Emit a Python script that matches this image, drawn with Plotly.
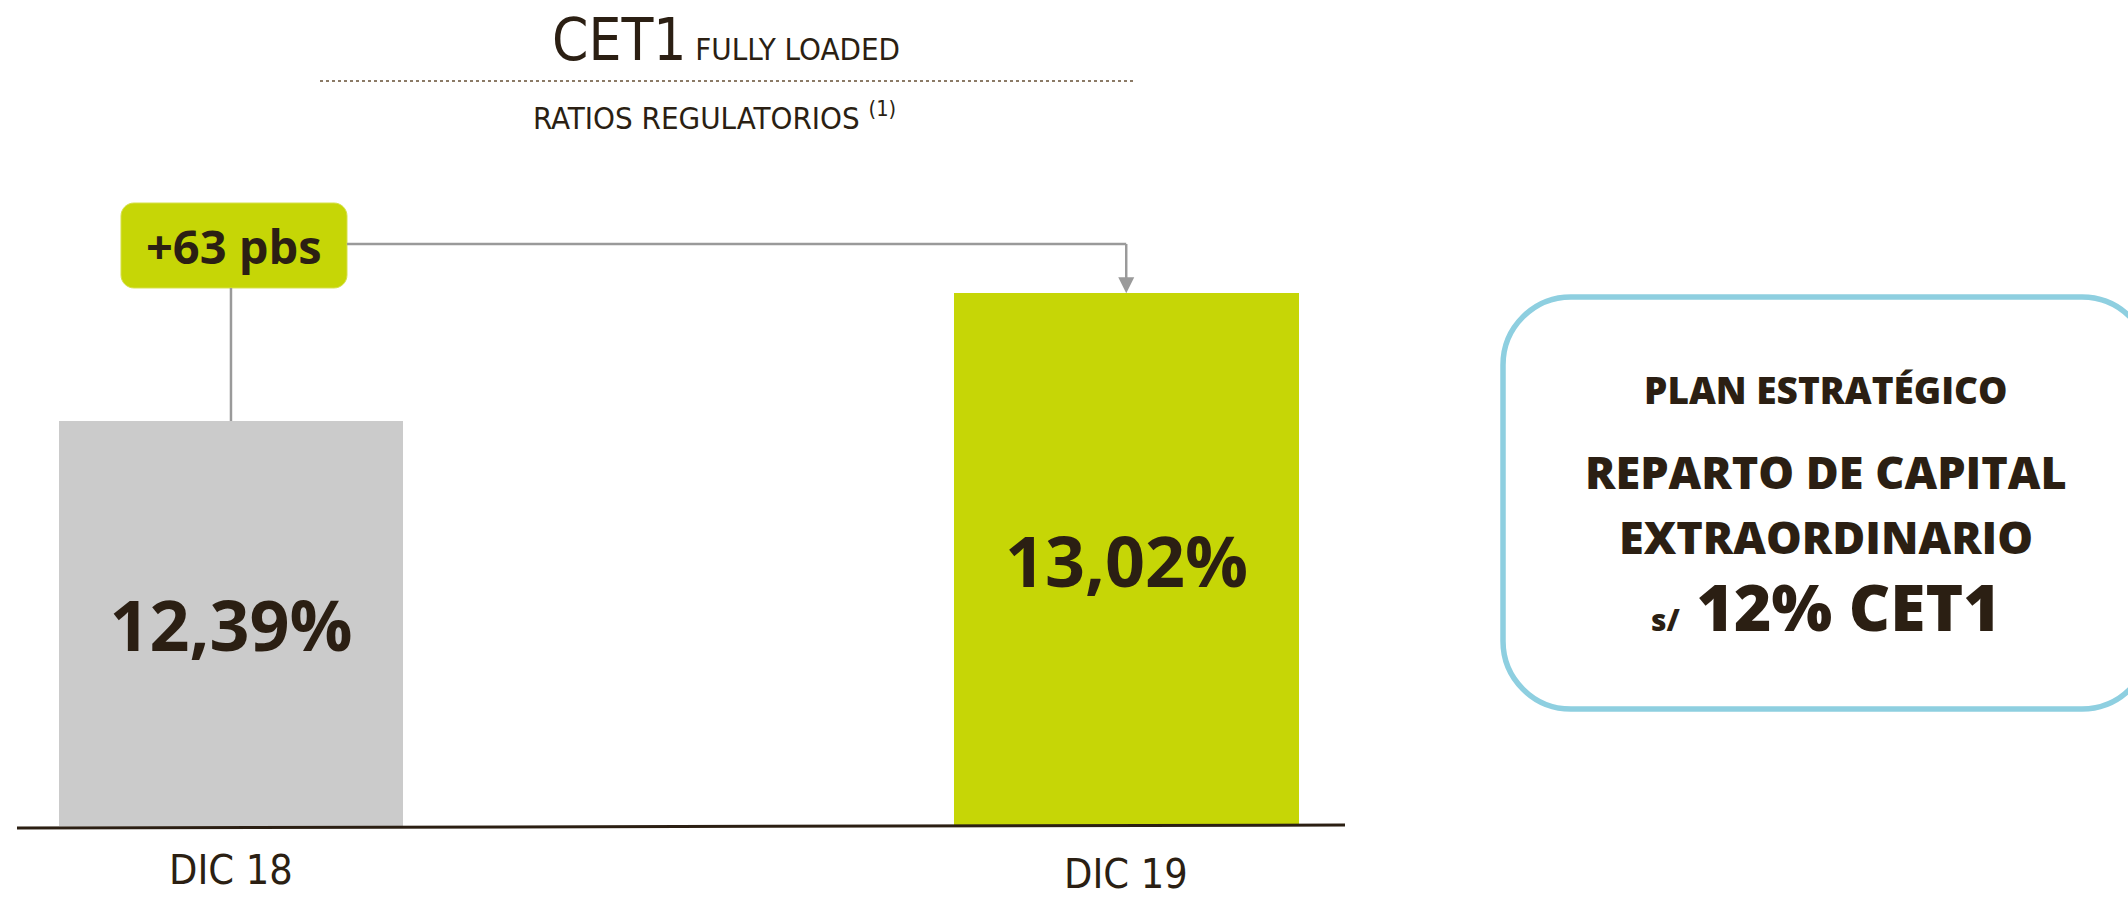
import plotly.graph_objects as go

# ---------------- data ----------------
categories = ["DIC 18", "DIC 19"]
cet1_values = [12.39, 13.02]
change_label = "+63 pbs"
title_main = "CET1"
title_sub = "FULLY LOADED"
subtitle = "RATIOS REGULATORIOS"
subtitle_note = "(1)"
side_title = "PLAN ESTRATÉGICO"
side_lines = ["REPARTO DE CAPITAL", "EXTRAORDINARIO"]
side_prefix = "s/"
side_target = "12% CET1"

# ---------------- style ----------------
W, H = 2128, 897
bar_colors = ["#cbcbcb", "#c6d606"]
DARK = "#2b1f13"
GREY_LINE = "#9a9a9a"
BLUE = "#8ecfe0"
NARROW = "Liberation Sans Narrow, DejaVu Sans Condensed, Roboto, sans-serif"
BOLD = "Open Sans, Noto Sans, sans-serif"

Y_FLOOR = 10.395          # broken-axis baseline
PX_PER_UNIT = 203.0
BASE_PX = 826.0
X_RANGE = [-0.258, 2.119]
Y_RANGE = [Y_FLOOR - (H - BASE_PX) / PX_PER_UNIT, Y_FLOOR + BASE_PX / PX_PER_UNIT]


def pxx(px):
    return px / W


def pxy(py):
    return 1 - py / H


def data_y_from_px(py):
    return Y_FLOOR + (BASE_PX - py) / PX_PER_UNIT


def data_x_from_px(px):
    return X_RANGE[0] + px / W * (X_RANGE[1] - X_RANGE[0])


def rounded_path(x0, y0, x1, y1, r):
    k = 0.5523 * r

    def P(x, y):
        return f"{pxx(x):.5f},{pxy(y):.5f}"
    pts = [
        f"M {P(x0 + r, y0)}",
        f"L {P(x1 - r, y0)}",
        f"C {P(x1 - r + k, y0)} {P(x1, y0 + r - k)} {P(x1, y0 + r)}",
        f"L {P(x1, y1 - r)}",
        f"C {P(x1, y1 - r + k)} {P(x1 - r + k, y1)} {P(x1 - r, y1)}",
        f"L {P(x0 + r, y1)}",
        f"C {P(x0 + r - k, y1)} {P(x0, y1 - r + k)} {P(x0, y1 - r)}",
        f"L {P(x0, y0 + r)}",
        f"C {P(x0, y0 + r - k)} {P(x0 + r - k, y0)} {P(x0 + r, y0)}",
        "Z",
    ]
    return " ".join(pts)


fig = go.Figure()
fig.add_trace(go.Bar(
    x=categories,
    y=[v - Y_FLOOR for v in cet1_values],
    base=Y_FLOOR,
    marker=dict(color=bar_colors, line=dict(width=0)),
    width=0.385,
    text=[f"{v:.2f}".replace(".", ",") + "%" for v in cet1_values],
    textposition="inside",
    insidetextanchor="middle",
    constraintext="none",
    textfont=dict(family=BOLD, size=70, color=DARK, weight="bold"),
    hoverinfo="skip",
))

shapes = []
annotations = []

# baseline axis line
shapes.append(dict(type="line", xref="paper", yref="paper",
                   x0=pxx(17), y0=pxy(828), x1=pxx(1345), y1=pxy(825),
                   line=dict(color=DARK, width=3)))

# change label box
box = (121, 203, 347, 288)
label_y = data_y_from_px(244)
shapes.append(dict(type="path", xref="paper", yref="paper",
                   path=rounded_path(*box, 13), fillcolor="#c6d606",
                   line=dict(color="#d6e04a", width=1), layer="above"))
annotations.append(dict(xref="paper", yref="paper", x=pxx((box[0] + box[2]) / 2),
                        y=pxy((box[1] + box[3]) / 2), text=change_label,
                        showarrow=False, xanchor="center", yanchor="middle",
                        font=dict(family=BOLD, size=47, color=DARK, weight="bold")))
# connector lines
shapes.append(dict(type="line", xref="x", yref="y",
                   x0=0, y0=cet1_values[0], x1=0, y1=data_y_from_px(box[3]),
                   line=dict(color=GREY_LINE, width=2.5)))
shapes.append(dict(type="line", xref="x", yref="y",
                   x0=data_x_from_px(box[2]), y0=label_y, x1=1, y1=label_y,
                   line=dict(color=GREY_LINE, width=2.5)))
shapes.append(dict(type="line", xref="x", yref="y",
                   x0=1, y0=label_y, x1=1, y1=cet1_values[1] + 14 / PX_PER_UNIT,
                   line=dict(color=GREY_LINE, width=2.5)))
# arrow head (pixel-sized triangle anchored on the DIC 19 bar top)
shapes.append(dict(type="path", xref="x", yref="y",
                   xsizemode="pixel", ysizemode="pixel",
                   xanchor=1, yanchor=cet1_values[1],
                   path="M -8,16 L 8,16 L 0,0 Z",
                   fillcolor=GREY_LINE, line=dict(width=0)))

# category labels
for i, (cat, dy) in enumerate(zip(categories, [870, 874])):
    annotations.append(dict(xref="x", yref="paper", x=i, y=pxy(dy), text=cat,
                            showarrow=False, xanchor="center", yanchor="middle",
                            font=dict(family=NARROW, size=41, color=DARK)))

# header
annotations.append(dict(xref="paper", yref="paper", x=pxx(726), y=pxy(40),
                        text=f"<span style='font-size:58px'>{title_main}</span> "
                             f"<span style='font-size:31px'>{title_sub}</span>",
                        showarrow=False, xanchor="center", yanchor="middle",
                        font=dict(family=NARROW, size=31, color=DARK)))
shapes.append(dict(type="line", xref="paper", yref="paper",
                   x0=pxx(320), y0=pxy(81), x1=pxx(1133), y1=pxy(81),
                   line=dict(color="#8b7a66", width=2, dash="dot")))
annotations.append(dict(xref="paper", yref="paper", x=pxx(714), y=pxy(116),
                        text=f"{subtitle} <sup>{subtitle_note}</sup>",
                        showarrow=False, xanchor="center", yanchor="middle",
                        font=dict(family=NARROW, size=31, color=DARK)))

# right-hand strategic plan box
shapes.append(dict(type="path", xref="paper", yref="paper",
                   path=rounded_path(1503, 297, 2150, 709, 68),
                   fillcolor="rgba(0,0,0,0)", line=dict(color=BLUE, width=5.5)))
cx = pxx(1826)
annotations.append(dict(xref="paper", yref="paper", x=cx, y=pxy(390),
                        text=side_title, showarrow=False,
                        xanchor="center", yanchor="middle",
                        font=dict(family=BOLD, size=37, color=DARK, weight=800)))
for line_text, yy in zip(side_lines, [472, 536]):
    annotations.append(dict(xref="paper", yref="paper", x=cx, y=pxy(yy),
                            text=line_text, showarrow=False,
                            xanchor="center", yanchor="middle",
                            font=dict(family=BOLD, size=45, color=DARK, weight=800)))
annotations.append(dict(xref="paper", yref="paper", x=cx, y=pxy(606),
                        text=f"<span style='font-size:30px'>{side_prefix}</span> {side_target}",
                        showarrow=False, xanchor="center", yanchor="middle",
                        font=dict(family=BOLD, size=64, color=DARK, weight=800)))

fig.update_layout(
    width=W, height=H,
    margin=dict(l=0, r=0, t=0, b=0),
    paper_bgcolor="white", plot_bgcolor="white",
    showlegend=False,
    xaxis=dict(range=X_RANGE, domain=[0, 1], showgrid=False, zeroline=False,
               showticklabels=False, showline=False, fixedrange=True),
    yaxis=dict(range=Y_RANGE, domain=[0, 1], showgrid=False, zeroline=False,
               showticklabels=False, showline=False, fixedrange=True),
    shapes=shapes,
    annotations=annotations,
    bargap=0,
)

fig.write_html(
    "out.html",
    config={"displayModeBar": False},
    post_script="document.body.style.margin='0';document.body.style.overflow='hidden';",
)
